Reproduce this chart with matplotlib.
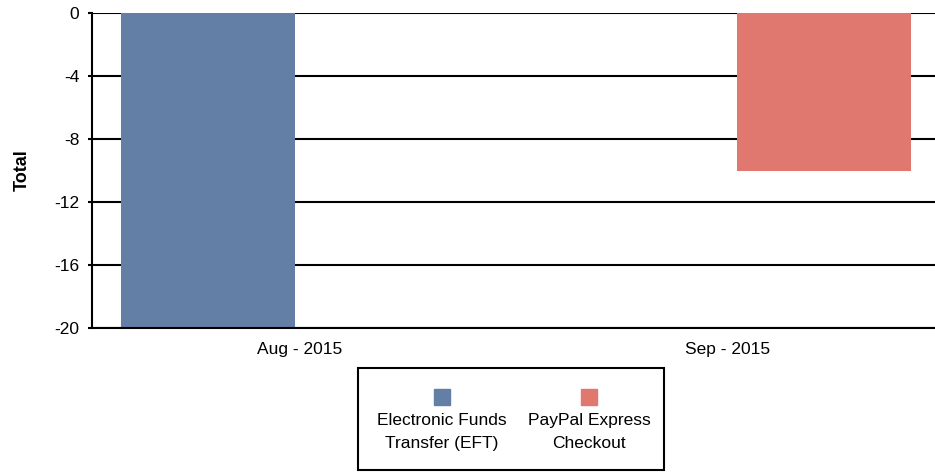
import matplotlib.pyplot as plt
from matplotlib.patches import Rectangle

plt.rcParams['font.family'] = ['Liberation Sans', 'DejaVu Sans']

months = ['Aug - 2015', 'Sep - 2015']
series = ['Electronic Funds\nTransfer (EFT)', 'PayPal Express\nCheckout']
totals = [-20, -10]
colors = ['#647FA6', '#E07870']
yticks = [0, -4, -8, -12, -16, -20]
# label positions sit offset from the bars in the original chart
label_pos = [0.149, 0.844]

fig = plt.figure(figsize=(9.35, 4.73), dpi=100)
ax = fig.add_axes([92/935, 145/473, 1 - 92/935, 315/473])

ax.bar(range(len(months)), totals, width=0.2825, color=colors, zorder=3)

ax.set_xlim(-0.188, 1.18)
ax.set_ylim(-20, 0)
ax.set_yticks(yticks)
ax.set_yticklabels([str(t) for t in yticks], fontsize=12.5)
ax.set_xticks(label_pos)
ax.set_xticklabels(months, fontsize=12.5)
ax.tick_params(axis='x', length=0, pad=10)
ax.tick_params(axis='y', length=3, width=1.5, pad=6)
ax.grid(axis='y', color='black', linewidth=1.5, zorder=0)
ax.set_axisbelow(True)
for s in ['top', 'right']:
    ax.spines[s].set_visible(False)
for s in ['left', 'bottom']:
    ax.spines[s].set_linewidth(1.5)
    ax.spines[s].set_zorder(4)
ax.set_ylabel('Total', fontsize=13, fontweight='bold', labelpad=17)

# legend: swatches above two-line labels, inside a framed box
W, H = 935, 473
fig.patches.append(Rectangle((358/W, 1 - 470/H), 306/W, 102/H, transform=fig.transFigure,
                             fill=False, edgecolor='black', linewidth=1.5))
centers = [442, 589]
for cx, lab, c in zip(centers, series, colors):
    fig.patches.append(Rectangle(((cx - 8)/W, 1 - 405/H), 16/W, 16/H,
                                 transform=fig.transFigure, color=c))
    fig.text(cx/W, 1 - 413/H, lab, ha='center', va='top', fontsize=12.5, linespacing=1.65)

fig.savefig('out.png', dpi=100)
